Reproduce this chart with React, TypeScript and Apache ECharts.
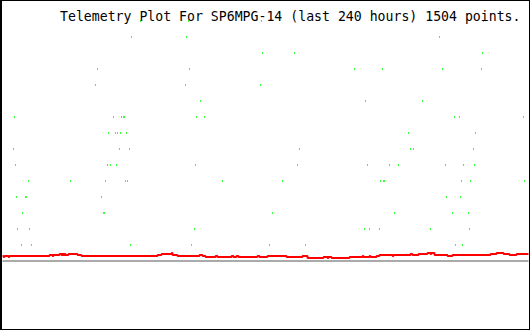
import React, { useEffect, useRef } from "react";
import * as echarts from "echarts";

const TITLE = "Telemetry Plot For SP6MPG-14 (last 240 hours) 1504 points.";
const HOURS_MAX = 240;

// Green channel: discrete levels, hours (0..240) at which each level was sampled
const dotsL15 = [62.97, 84.87, 118.17, 219.47];
const dotsL14 = [58.86, 83.95, 199.39];
const dotsL13 = [118.63, 133.23, 219.01];
const dotsL12 = [43.35, 85.32, 160.61, 173.38, 200.76, 218.55];
const dotsL11 = [42.43, 83.5, 117.72];
const dotsL10 = [90.34, 165.63, 191.63];
const dotsL9 = [5.48, 50.65, 54.3, 55.21, 55.67, 88.52, 92.17, 206.23, 208.52, 237.72];
const dotsL8 = [48.36, 51.56, 52.47, 53.84, 56.58, 185.25, 215.82];
const dotsL7 = [5.02, 53.38, 57.95, 135.51, 186.16, 187.53, 214.9];
const dotsL6 = [5.93, 47.91, 49.28, 52.01, 88.06, 134.6, 166.54, 176.58, 180.68, 202.13, 210.34, 215.36];
const dotsL5 = [11.86, 31.03, 47.0, 56.12, 57.03, 100.38, 127.76, 172.47, 173.84, 174.3, 209.43, 213.53, 238.17];
const dotsL4 = [6.39, 10.49, 10.95, 45.17, 202.58, 208.97];
const dotsL3 = [9.13, 46.08, 46.54, 123.19, 178.86, 205.32, 212.62];
const dotsL2 = [6.84, 12.32, 87.6, 165.17, 167.45, 172.01, 195.28, 213.08];
const dotsL1 = [8.67, 13.23, 58.4, 86.24, 121.82, 138.25, 206.69, 209.88];

// Red channel: step changes (hour, value)
const redHours = [
  0, 0.46, 0.91, 2.74, 3.19, 21.44, 22.81, 23.27, 26.01, 26.92, 27.38, 27.83, 28.29, 28.74,
  30.11, 34.22, 36.05, 70.72, 72.55, 77.11, 77.57, 79.85, 89.89, 91.25, 92.62, 97.19, 98.1,
  104.49, 105.4, 106.77, 107.68, 116.35, 117.26, 120.91, 129.58, 136.88, 139.16, 146.46,
  148.29, 148.75, 150.11, 158.33, 164.26, 164.72, 167.45, 167.91, 170.65, 172.01, 177.95,
  178.4, 186.16, 187.07, 189.81, 193.91, 195.28, 195.74, 197.11, 203.04, 205.32, 222.66,
  225.4, 228.64, 231.33, 234.53, 240,
];
const redValues = [
  0.3125, 0.25, 0.3125, 0.25, 0.3125, 0.375, 0.3125, 0.375, 0.4375, 0.375, 0.4375, 0.375, 0.4375, 0.375,
  0.4375, 0.375, 0.3125, 0.375, 0.4375, 0.5, 0.375, 0.3125, 0.375, 0.3125, 0.25, 0.3125, 0.25,
  0.3125, 0.25, 0.3125, 0.25, 0.3125, 0.25, 0.3125, 0.25, 0.3125, 0.1875, 0.25,
  0.1875, 0.25, 0.1875, 0.25, 0.3125, 0.25, 0.3125, 0.25, 0.3125, 0.375, 0.3125,
  0.375, 0.4375, 0.375, 0.4375, 0.5, 0.4375, 0.5, 0.375, 0.3125, 0.375, 0.4375,
  0.5, 0.4375, 0.375, 0.4375, 0.4375,
];

const BASELINE = 0;

export default function App() {
  const ref = useRef<HTMLDivElement>(null);
  useEffect(() => {
    if (!ref.current) return;
    const chart = echarts.init(ref.current, undefined, { renderer: "svg" });
    const levels: [number, number[]][] = [
      [15, dotsL15], [14, dotsL14], [13, dotsL13], [12, dotsL12], [11, dotsL11],
      [10, dotsL10], [9, dotsL9], [8, dotsL8], [7, dotsL7], [6, dotsL6],
      [5, dotsL5], [4, dotsL4], [3, dotsL3], [2, dotsL2], [1, dotsL1],
    ];
    const greenData: number[][] = [];
    levels.forEach(([lv, hrs]) => hrs.forEach((h) => greenData.push([h, lv])));
    const redData = redHours.map((h, i) => [h, redValues[i]]);

    chart.setOption({
      animation: false,
      backgroundColor: "#ffffff",
      title: {
        text: TITLE,
        left: 60,
        top: 10,
        padding: 0,
        textStyle: {
          fontFamily: "DejaVu Sans Mono",
          fontSize: 13.2,
          fontWeight: "normal",
          color: "#000000",
          lineHeight: 13,
        },
      },
      grid: { left: 2.5, right: 1.5, top: 5, bottom: 5 },
      xAxis: { type: "value", min: 0, max: HOURS_MAX, show: false },
      yAxis: { type: "value", min: -4, max: 16, show: false },
      series: [
        {
          type: "scatter",
          data: greenData,
          symbol: "rect",
          symbolSize: [1, 2],
          itemStyle: { color: "#00ff00" },
          silent: true,
          z: 2,
        },
        {
          type: "line",
          data: redData,
          step: "end",
          symbol: "none",
          showSymbol: false,
          lineStyle: { color: "#ff0000", width: 2 },
          silent: true,
          z: 3,
          markLine: {
            silent: true,
            symbol: "none",
            label: { show: false },
            lineStyle: { color: "#aaaaaa", width: 2, type: "solid" },
            data: [{ yAxis: BASELINE }],
          },
        },
      ],
      graphic: [
        { type: "rect", shape: { x: 0, y: 0, width: 530, height: 1 }, style: { fill: "#000" }, z: 10 },
        { type: "rect", shape: { x: 0, y: 0, width: 2, height: 330 }, style: { fill: "#000" }, z: 10 },
        { type: "rect", shape: { x: 529, y: 0, width: 1, height: 330 }, style: { fill: "#000" }, z: 10 },
        { type: "rect", shape: { x: 0, y: 329, width: 530, height: 1 }, style: { fill: "#000" }, z: 10 },
      ],
    });
    return () => chart.dispose();
  }, []);
  return (
    <div
      ref={ref}
      style={{ position: "fixed", left: 0, top: 0, width: 530, height: 330 }}
    />
  );
}
